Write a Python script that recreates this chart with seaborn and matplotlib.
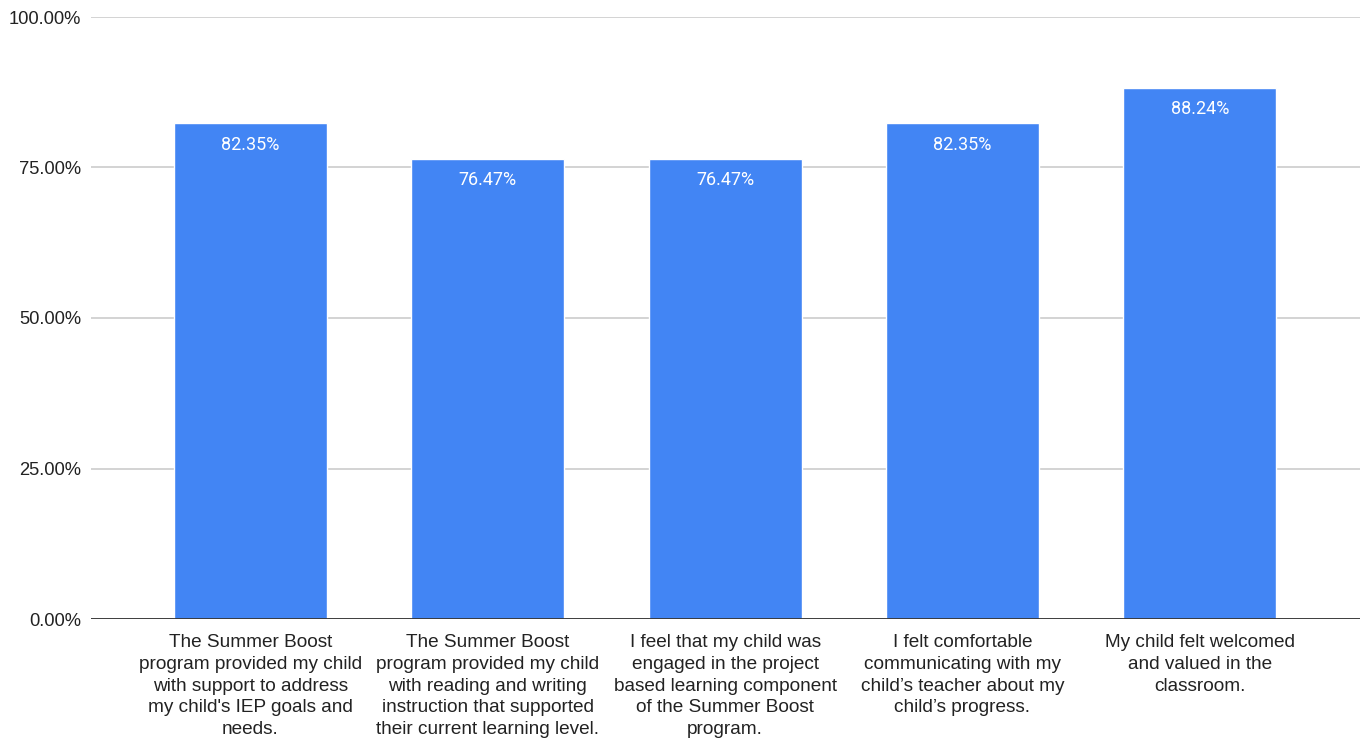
import matplotlib
matplotlib.use("Agg")
import matplotlib.pyplot as plt
import seaborn as sns
import pandas as pd

# Survey statements (wrapped for the x axis) and share of parents agreeing
statements = [
    "The Summer Boost\nprogram provided my child\nwith support to address\nmy child's IEP goals and\nneeds.",
    "The Summer Boost\nprogram provided my child\nwith reading and writing\ninstruction that supported\ntheir current learning level.",
    "I feel that my child was\nengaged in the project\nbased learning component\nof the Summer Boost\nprogram.",
    "I felt comfortable\ncommunicating with my\nchild\u2019s teacher about my\nchild\u2019s progress.",
    "My child felt welcomed\nand valued in the\nclassroom.",
]
percent_agree = [82.35, 76.47, 76.47, 82.35, 88.24]
y_ticks = [0, 25, 50, 75, 100]
y_tick_labels = ["0.00%", "25.00%", "50.00%", "75.00%", "100.00%"]

df = pd.DataFrame({"statement": statements, "pct": percent_agree})

sns.set_theme(style="white")
plt.rcParams["font.family"] = ["Liberation Sans", "DejaVu Sans"]

fig = plt.figure(figsize=(13.62, 7.38), dpi=100)
ax = fig.add_axes([91 / 1362, 1 - 619 / 738, (1360 - 91) / 1362, (619 - 17) / 738])

sns.barplot(data=df, x="statement", y="pct", color="#4285F4", width=0.645,
            saturation=1, ax=ax, zorder=3)

for i, v in enumerate(df["pct"]):
    ax.annotate(f"{v:.2f}%", xy=(i, v), xytext=(0, -9), textcoords="offset points",
                ha="center", va="top", color="white", fontsize=13,
                family=["Roboto", "DejaVu Sans"], zorder=4)

ax.set_ylim(0, 100)
ax.set_xlim(-0.672, 4.675)
ax.set_yticks(y_ticks)
ax.set_yticklabels(y_tick_labels)
ax.set_xticks(range(len(statements)))
ax.set_xticklabels(statements, linespacing=1.36)
ax.yaxis.grid(True, color="#cccccc", linewidth=1.2, zorder=0)
ax.set_axisbelow(True)
ax.axhline(0, color="#333333", linewidth=1.3, zorder=5)

for s in ax.spines.values():
    s.set_visible(False)
ax.tick_params(axis="both", length=0, colors="#222222")
ax.tick_params(axis="x", pad=11, labelsize=13.7)
ax.tick_params(axis="y", pad=7, labelsize=13.2)
ax.set_xlabel("")
ax.set_ylabel("")

fig.savefig("out.png", dpi=100, facecolor="white")
